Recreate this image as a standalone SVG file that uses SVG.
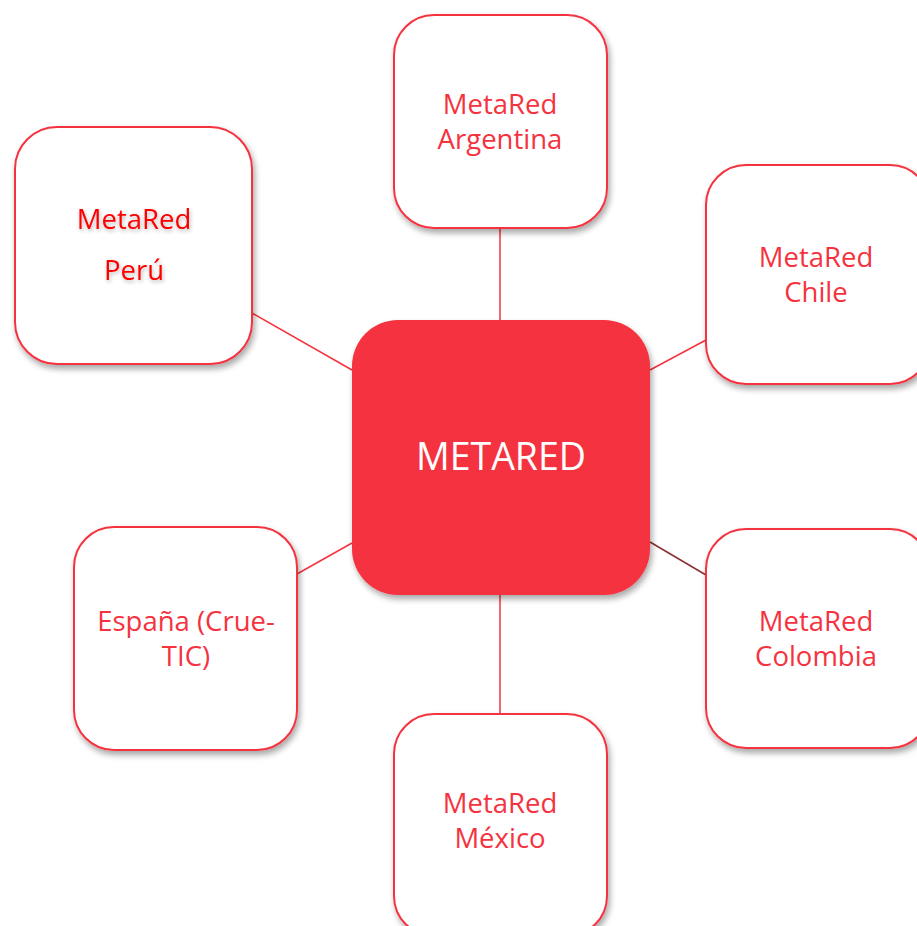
<svg xmlns="http://www.w3.org/2000/svg" width="917" height="926" viewBox="0 0 917 926">
<defs>
<filter id="sh" x="-10%" y="-10%" width="125%" height="125%">
<feGaussianBlur in="SourceAlpha" stdDeviation="3"/>
<feOffset dx="2" dy="4" result="b"/>
<feComponentTransfer><feFuncA type="linear" slope="0.35"/></feComponentTransfer>
<feMerge><feMergeNode/><feMergeNode in="SourceGraphic"/></feMerge>
</filter>
<filter id="glow" x="-20%" y="-30%" width="140%" height="160%">
<feGaussianBlur in="SourceAlpha" stdDeviation="2"/>
<feOffset dx="1" dy="2"/>
<feComponentTransfer><feFuncA type="linear" slope="0.3"/></feComponentTransfer>
<feMerge><feMergeNode/><feMergeNode in="SourceGraphic"/></feMerge>
</filter>
</defs>
<style>
.box{fill:#fff;stroke:#F5333F;stroke-width:2}
.t{font-family:"Open Sans","Noto Sans",sans-serif;font-size:27.5px;fill:#F5333F;text-anchor:middle}
.c{stroke:#F5333F;stroke-width:1.5}
</style>
<rect width="917" height="926" fill="#fff"/>
<g id="connectors">
<line class="c" x1="500" y1="228" x2="500" y2="320"/>
<line class="c" x1="252" y1="313" x2="352" y2="370"/>
<line class="c" x1="706" y1="340" x2="650" y2="370"/>
<line class="c" x1="297" y1="574" x2="352" y2="543"/>
<line x1="706" y1="575" x2="650" y2="542" stroke="#8B3030" stroke-width="1.5"/>
<line class="c" x1="500" y1="714" x2="500" y2="595"/>
</g>
<g id="argentina">
<rect class="box" x="394" y="15" width="213" height="213" rx="40" filter="url(#sh)"/>
<text class="t" x="500" y="114">MetaRed</text>
<text class="t" x="500" y="149">Argentina</text>
</g>
<g id="peru">
<rect class="box" x="15" y="127" width="237" height="237" rx="42" filter="url(#sh)"/>
<g filter="url(#glow)">
<text class="t" x="134" y="229" style="fill:#FF0000">MetaRed</text>
<text class="t" x="134" y="280" style="fill:#FF0000">Perú</text>
</g>
</g>
<g id="chile">
<rect class="box" x="706" y="165" width="224" height="219" rx="40" filter="url(#sh)"/>
<text class="t" x="816" y="267">MetaRed</text>
<text class="t" x="816" y="302">Chile</text>
</g>
<g id="center">
<rect x="352" y="320" width="298" height="275" rx="46" fill="#F5333F" filter="url(#sh)"/>
<text x="501" y="470" style="font-family:'Open Sans','Noto Sans',sans-serif;font-size:37.5px;fill:#fff;text-anchor:middle">METARED</text>
</g>
<g id="espana">
<rect class="box" x="74" y="527" width="223" height="223" rx="40" filter="url(#sh)"/>
<text class="t" x="186" y="631">España (Crue-</text>
<text class="t" x="186" y="666">TIC)</text>
</g>
<g id="colombia">
<rect class="box" x="706" y="529" width="224" height="219" rx="40" filter="url(#sh)"/>
<text class="t" x="816" y="631">MetaRed</text>
<text class="t" x="816" y="666">Colombia</text>
</g>
<g id="mexico">
<rect class="box" x="394" y="714" width="213" height="222" rx="40" filter="url(#sh)"/>
<text class="t" x="500" y="813">MetaRed</text>
<text class="t" x="500" y="848">México</text>
</g>
</svg>
